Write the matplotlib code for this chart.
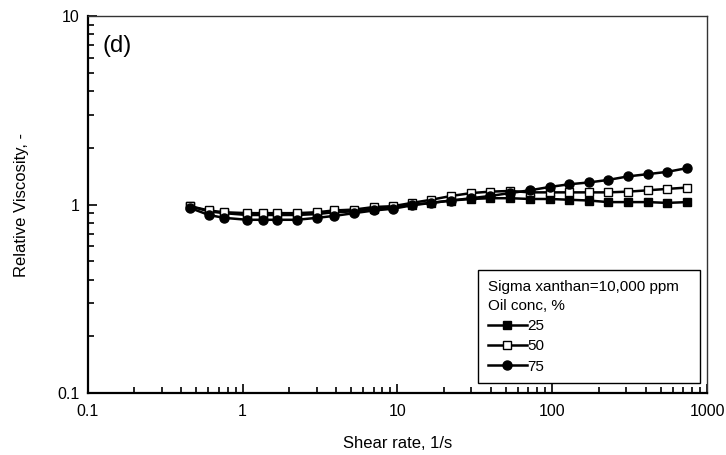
import matplotlib
matplotlib.use("Agg")
import matplotlib.pyplot as plt
from matplotlib.ticker import FixedLocator, FixedFormatter, LogLocator, NullFormatter

plt.rcParams['font.family'] = ['Liberation Sans', 'DejaVu Sans']

# shear rate, 1/s
shear = [0.456, 0.605, 0.757, 1.07, 1.35, 1.66, 2.24, 3.02, 3.89, 5.24, 7.05,
         9.35, 12.4, 16.5, 22.2, 29.9, 39.6, 53.3, 71.8, 96.7, 128, 173, 229,
         309, 416, 552, 743]

# relative viscosity for each oil concentration
visc_25 = [0.98, 0.92, 0.90, 0.88, 0.88, 0.88, 0.88, 0.89, 0.91, 0.92, 0.95,
           0.97, 1.00, 1.02, 1.05, 1.07, 1.08, 1.08, 1.07, 1.07, 1.06, 1.05,
           1.03, 1.03, 1.03, 1.02, 1.03]
visc_50 = [0.98, 0.93, 0.91, 0.90, 0.90, 0.90, 0.90, 0.91, 0.93, 0.94, 0.97,
           0.98, 1.02, 1.06, 1.11, 1.15, 1.17, 1.18, 1.16, 1.16, 1.16, 1.16,
           1.16, 1.17, 1.19, 1.21, 1.23]
visc_75 = [0.96, 0.88, 0.85, 0.83, 0.83, 0.83, 0.83, 0.85, 0.87, 0.90, 0.93,
           0.95, 0.99, 1.02, 1.05, 1.08, 1.11, 1.15, 1.19, 1.24, 1.28, 1.31,
           1.35, 1.41, 1.45, 1.49, 1.56]

x_ticks = [0.1, 1, 10, 100, 1000]
x_labels = ["0.1", "1", "10", "100", "1000"]
y_ticks = [0.1, 1, 10]
y_labels = ["0.1", "1", "10"]

fig = plt.figure(figsize=(7.26, 4.55), dpi=100)
ax = fig.add_axes([0.121, 0.136, 0.853, 0.829])

ax.plot(shear, visc_25, 'k-', marker='s', ms=6, lw=1.8, mfc='black',
        mec='black', label='25')
ax.plot(shear, visc_50, 'k-', marker='s', ms=6, lw=1.8, mfc='white',
        mec='black', label='50')
ax.plot(shear, visc_75, 'k-', marker='o', ms=6.5, lw=1.8, mfc='black',
        mec='black', label='75')

ax.set_xscale('log')
ax.set_yscale('log')
ax.set_xlim(0.1, 1000)
ax.set_ylim(0.1, 10)

ax.xaxis.set_major_locator(FixedLocator(x_ticks))
ax.xaxis.set_major_formatter(FixedFormatter(x_labels))
ax.yaxis.set_major_locator(FixedLocator(y_ticks))
ax.yaxis.set_major_formatter(FixedFormatter(y_labels))
ax.xaxis.set_minor_locator(LogLocator(base=10, subs=range(2, 10), numticks=20))
ax.yaxis.set_minor_locator(LogLocator(base=10, subs=range(2, 10), numticks=20))
ax.xaxis.set_minor_formatter(NullFormatter())
ax.yaxis.set_minor_formatter(NullFormatter())

ax.tick_params(which='both', direction='in', top=False, right=False,
               labelsize=11.5, width=1.2)
ax.tick_params(which='major', length=6.5)
ax.tick_params(which='minor', length=4.3)
ax.tick_params(axis='x', which='major', pad=8)
ax.tick_params(axis='y', which='major', pad=6)

for s in ['left', 'bottom']:
    ax.spines[s].set_linewidth(1.6)
for s in ['top', 'right']:
    ax.spines[s].set_linewidth(1.0)
    ax.spines[s].set_color('#333333')

ax.set_xlabel("Shear rate, 1/s", fontsize=12, labelpad=12)
ax.set_ylabel("Relative Viscosity, -", fontsize=12, labelpad=20)

ax.text(0.024, 0.92, "(d)", transform=ax.transAxes, fontsize=17,
        va='center', ha='left')

leg = ax.legend(title="Sigma xanthan=10,000 ppm   \nOil conc, %",
                loc='lower right', bbox_to_anchor=(0.989, 0.027),
                borderaxespad=0, fontsize=11, title_fontsize=11,
                handlelength=2.6, handletextpad=0.0, labelspacing=0.42,
                fancybox=False, edgecolor='black', framealpha=1,
                borderpad=0.6)
leg._legend_box.align = "left"
leg.get_title().set_linespacing(1.45)
leg.get_frame().set_linewidth(1.0)

plt.savefig("out.png", dpi=100)
